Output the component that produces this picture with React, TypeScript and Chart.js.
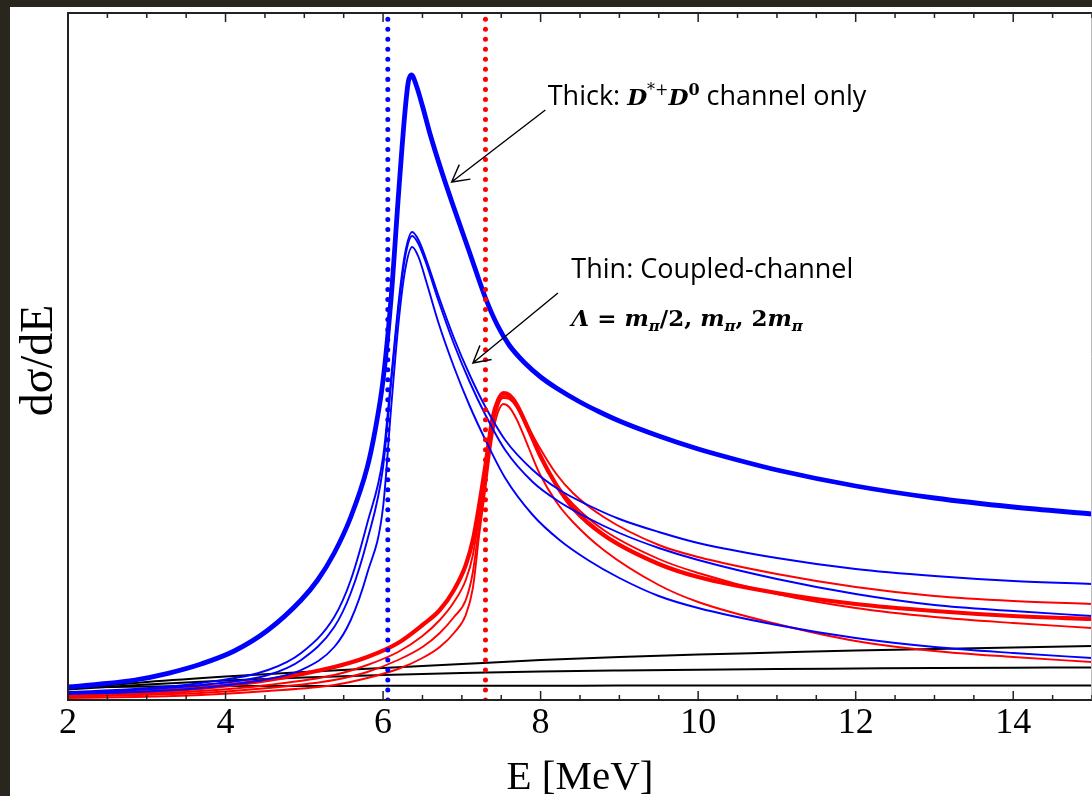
import React, { useEffect, useRef } from "react";
import { Chart, registerables } from "chart.js";
Chart.register(...registerables);

// ---- axis ticks ----
const X_TICKS = [2, 2.5, 3, 3.5, 4, 4.5, 5, 5.5, 6, 6.5, 7, 7.5, 8, 8.5, 9, 9.5, 10, 10.5, 11, 11.5, 12, 12.5, 13, 13.5, 14, 14.5, 15];
const X_LABELS = [2, 4, 6, 8, 10, 12, 14];

// ---- thresholds (dotted lines) ----
const THRESH_BLUE = 6.06;
const THRESH_RED = 7.3;

// ---- thick blue: D*+D0 channel only ----
const E_THICK_BLUE = [2.0, 2.42, 2.85, 3.27, 3.69, 4.11, 4.54, 4.96, 5.17, 5.38, 5.59, 5.8, 5.9, 6.0, 6.1, 6.2, 6.28, 6.32, 6.36, 6.42, 6.5, 6.6, 6.75, 6.9, 7.1, 7.3, 7.45, 7.6, 7.8, 8.0, 8.2, 8.5, 8.75, 9.0, 9.5, 10, 10.5, 11, 12, 13, 14, 15];
const THICK_BLUE = [13, 16, 20, 26.7, 36, 49, 70, 100, 120, 147, 183, 233, 270, 320, 400, 510, 590, 618, 625, 615, 594, 565, 527, 492, 447, 402, 375, 355, 337, 323, 312, 298, 288, 279, 264, 251, 240, 230, 214, 202, 193, 186];

// ---- thin blue: coupled channel, three cutoffs ----
const E_THIN_BLUE = [2.0, 2.85, 3.69, 4.54, 4.96, 5.38, 5.59, 5.8, 6.0, 6.1, 6.2, 6.28, 6.37, 6.45, 6.55, 6.7, 6.9, 7.1, 7.3, 7.55, 7.9, 8.24, 8.6, 9.0, 9.5, 10, 11, 12, 13, 14, 15];
const THIN_BLUE_1 = [8, 11, 17, 30, 47, 83, 120, 177, 243, 320, 400, 447, 468, 460, 440, 405, 362, 325, 293, 260, 230, 210, 195, 181, 168, 157, 142, 131, 124, 119, 116];
const THIN_BLUE_2 = [7, 10, 15, 25, 40, 73, 107, 160, 233, 315, 395, 443, 464, 456, 436, 400, 356, 318, 285, 250, 218, 198, 182, 167, 152, 140, 121, 106, 95, 89, 84];
const THIN_BLUE_3 = [6, 8, 12, 21, 30, 53, 80, 127, 193, 290, 380, 430, 453, 443, 418, 378, 333, 294, 260, 222, 185, 160, 140, 122, 104, 92, 75, 62, 53, 47, 42];

// ---- red curves ----
const E_RED = [2.0, 2.85, 3.69, 4.54, 5.38, 5.8, 6.19, 6.5, 6.72, 6.9, 7.05, 7.14, 7.22, 7.3, 7.39, 7.46, 7.53, 7.6, 7.7, 7.85, 7.99, 8.2, 8.41, 8.8, 9.5, 10, 11, 12, 13, 14, 15];
const THICK_RED = [5, 8, 12, 20, 33, 43, 57, 75, 90, 110, 135, 160, 195, 235, 282, 300, 307, 305, 295, 270, 245, 215, 192, 165, 136, 123, 107, 96, 89, 84, 81];
const THIN_RED_1 = [4, 6, 9, 15, 25, 35, 48, 64, 80, 98, 120, 145, 185, 228, 278, 296, 302, 301, 293, 272, 252, 226, 207, 183, 155, 143, 126, 113, 104, 99, 96];
const THIN_RED_2 = [3, 5, 7, 12, 20, 28, 40, 53, 67, 83, 100, 128, 175, 220, 272, 294, 304, 302, 292, 268, 245, 216, 196, 170, 141, 127, 106, 92, 83, 77, 72];
const THIN_RED_3 = [2, 3, 5, 9, 15, 22, 31, 42, 53, 67, 85, 112, 165, 212, 265, 288, 296, 293, 280, 252, 226, 198, 178, 150, 115, 98, 76, 59, 49, 43, 38];

// ---- black background curves ----
const E_BLACK = [2, 3, 4, 5, 6, 7, 8, 9, 10, 11, 12, 13, 14, 15];
const BLACK_1 = [11, 18, 23.5, 28, 32, 36, 40, 43, 45.5, 47.5, 49.5, 51, 52.5, 54];
const BLACK_2 = [10.5, 15.5, 19.5, 22.5, 25, 27, 28.5, 29.5, 30.3, 31, 31.5, 32, 32.3, 32.5];
const BLACK_3 = [12.5, 13.5, 14, 14, 14.2, 14.3, 14.3, 14.4, 14.4, 14.4, 14.4, 14.4, 14.4, 14.4];

// ---- annotations (data coordinates) ----
const ARROW_THICK = { from: [8.06, 590], to: [6.87, 518] };
const ARROW_THIN = { from: [8.22, 407], to: [7.14, 337] };
const TEXT_THICK_POS = [8.09, 595];
const TEXT_THIN_POS = [8.39, 422];
const TEXT_LAMBDA_POS = [8.39, 374];

const BLUE = "#0000ff";
const RED = "#ff0000";
const SERIF = "'Liberation Serif', 'Times New Roman', serif";
const MATH = "'DejaVu Serif', serif";
const SANS = "'Open Sans', 'Noto Sans', sans-serif";

function series(E: number[], V: number[], color: string, width: number) {
  return {
    data: E.map((x, i) => ({ x, y: V[i] })),
    borderColor: color,
    borderWidth: width,
    pointRadius: 0,
    fill: false,
    tension: 0.4,
    cubicInterpolationMode: "monotone" as const,
  };
}

function vline(x: number, color: string) {
  return {
    data: [{ x, y: 0 }, { x, y: 687 }],
    borderColor: color,
    borderWidth: 5,
    borderDash: [0.01, 10],
    borderCapStyle: "round" as const,
    pointRadius: 0,
    fill: false,
    tension: 0,
  };
}

type Seg = { t: string; f: string; dy?: number };
function drawRich(ctx: CanvasRenderingContext2D, segs: Seg[], x: number, y: number) {
  let cx = x;
  ctx.textAlign = "left";
  ctx.textBaseline = "alphabetic";
  for (const s of segs) {
    ctx.font = s.f;
    ctx.fillText(s.t, cx, y + (s.dy || 0));
    cx += ctx.measureText(s.t).width;
  }
}

function drawArrow(ctx: CanvasRenderingContext2D, x1: number, y1: number, x2: number, y2: number) {
  ctx.beginPath();
  ctx.moveTo(x1, y1);
  ctx.lineTo(x2, y2);
  const a = Math.atan2(y1 - y2, x1 - x2);
  const L = 19;
  const w = 0.5;
  ctx.moveTo(x2 + L * Math.cos(a + w), y2 + L * Math.sin(a + w));
  ctx.lineTo(x2, y2);
  ctx.lineTo(x2 + L * Math.cos(a - w), y2 + L * Math.sin(a - w));
  ctx.stroke();
}

const decorPlugin = {
  id: "decor",
  afterDraw(chart: any) {
    const ctx: CanvasRenderingContext2D = chart.ctx;
    const { left, right, top, bottom } = chart.chartArea;
    const xs = chart.scales.x;
    const ys = chart.scales.y;
    ctx.save();
    // frame
    ctx.strokeStyle = "#222";
    ctx.lineWidth = 2;
    ctx.beginPath();
    ctx.moveTo(left, top);
    ctx.lineTo(left, bottom);
    ctx.moveTo(left - 1, top);
    ctx.lineTo(right, top);
    ctx.moveTo(left - 1, bottom);
    ctx.lineTo(right, bottom);
    ctx.stroke();
    ctx.strokeStyle = "#bbb";
    ctx.lineWidth = 1;
    ctx.beginPath();
    ctx.moveTo(right - 0.5, top);
    ctx.lineTo(right - 0.5, bottom);
    ctx.stroke();
    // ticks
    ctx.strokeStyle = "#222";
    ctx.lineWidth = 1.5;
    ctx.beginPath();
    for (const v of X_TICKS) {
      const px = xs.getPixelForValue(v);
      const len = X_LABELS.includes(v) ? 9 : 5;
      ctx.moveTo(px, bottom);
      ctx.lineTo(px, bottom - len);
      ctx.moveTo(px, top);
      ctx.lineTo(px, top + len);
    }
    ctx.stroke();
    // tick labels
    ctx.fillStyle = "#000";
    ctx.font = `36px ${SERIF}`;
    ctx.textAlign = "center";
    ctx.textBaseline = "alphabetic";
    for (const v of X_LABELS) {
      ctx.fillText(String(v), xs.getPixelForValue(v), bottom + 33);
    }
    // axis titles
    ctx.font = `41px ${SERIF}`;
    ctx.fillText("E [MeV]", (left + xs.getPixelForValue(15)) / 2, bottom + 89);
    ctx.save();
    ctx.translate(30, (top + bottom) / 2 + 4);
    ctx.rotate(-Math.PI / 2);
    ctx.textBaseline = "middle";
    ctx.font = `46px ${SERIF}`;
    ctx.fillText("d\u03c3/dE", 0, 0);
    ctx.restore();
    // arrows
    ctx.strokeStyle = "#000";
    ctx.lineWidth = 1.4;
    for (const a of [ARROW_THICK, ARROW_THIN]) {
      drawArrow(ctx, xs.getPixelForValue(a.from[0]), ys.getPixelForValue(a.from[1]), xs.getPixelForValue(a.to[0]), ys.getPixelForValue(a.to[1]));
    }
    // annotation text
    ctx.fillStyle = "#000";
    const sans = `27px ${SANS}`;
    const bi = `bold italic 23px ${MATH}`;
    const b = `bold 23px ${MATH}`;
    drawRich(ctx, [
      { t: "Thick: ", f: sans },
      { t: "D", f: bi },
      { t: "*+", f: `16px ${MATH}`, dy: -10 },
      { t: "D", f: bi },
      { t: "0", f: `bold 16px ${MATH}`, dy: -10 },
      { t: " channel only", f: sans },
    ], xs.getPixelForValue(TEXT_THICK_POS[0]), ys.getPixelForValue(TEXT_THICK_POS[1]));
    drawRich(ctx, [{ t: "Thin: Coupled-channel", f: sans }], xs.getPixelForValue(TEXT_THIN_POS[0]), ys.getPixelForValue(TEXT_THIN_POS[1]));
    const sub = `bold italic 15px ${MATH}`;
    drawRich(ctx, [
      { t: "\u039b", f: bi },
      { t: " = ", f: b },
      { t: "m", f: bi },
      { t: "\u03c0", f: sub, dy: 5 },
      { t: "/2, ", f: b },
      { t: "m", f: bi },
      { t: "\u03c0", f: sub, dy: 5 },
      { t: ", ", f: b },
      { t: "2", f: b },
      { t: "m", f: bi },
      { t: "\u03c0", f: sub, dy: 5 },
    ], xs.getPixelForValue(TEXT_LAMBDA_POS[0]), ys.getPixelForValue(TEXT_LAMBDA_POS[1]));
    ctx.restore();
  },
};

export default function App() {
  const ref = useRef<HTMLCanvasElement>(null);
  useEffect(() => {
    const canvas = ref.current!;
    const chart = new Chart(canvas, {
      type: "line",
      data: {
        datasets: [
          vline(THRESH_BLUE, BLUE),
          vline(THRESH_RED, RED),
          series(E_THICK_BLUE, THICK_BLUE, BLUE, 4.8),
          series(E_THIN_BLUE, THIN_BLUE_1, BLUE, 1.9),
          series(E_THIN_BLUE, THIN_BLUE_2, BLUE, 1.9),
          series(E_THIN_BLUE, THIN_BLUE_3, BLUE, 1.9),
          series(E_RED, THICK_RED, RED, 4.2),
          series(E_RED, THIN_RED_1, RED, 1.9),
          series(E_RED, THIN_RED_2, RED, 1.9),
          series(E_RED, THIN_RED_3, RED, 1.9),
          series(E_BLACK, BLACK_1, "#000", 2),
          series(E_BLACK, BLACK_2, "#000", 2),
          series(E_BLACK, BLACK_3, "#000", 2),
        ] as any,
      },
      options: {
        responsive: false,
        animation: false,
        events: [],
        layout: { padding: { left: 58, top: 6, right: 0, bottom: 96 } },
        scales: {
          x: { type: "linear", min: 2, max: 15, display: false },
          y: { type: "linear", min: 0, max: 687, display: false },
        },
        plugins: { legend: { display: false }, tooltip: { enabled: false } },
      },
      plugins: [decorPlugin],
    });
    return () => chart.destroy();
  }, []);
  return (
    <div style={{ position: "fixed", inset: 0, background: "#28261d" }}>
      <div style={{ position: "absolute", left: 10, top: 7, right: 0, bottom: 0, background: "#fff", overflow: "hidden" }}>
        <canvas ref={ref} width={1082} height={789} style={{ display: "block", width: 1082, height: 789 }} />
      </div>
    </div>
  );
}
